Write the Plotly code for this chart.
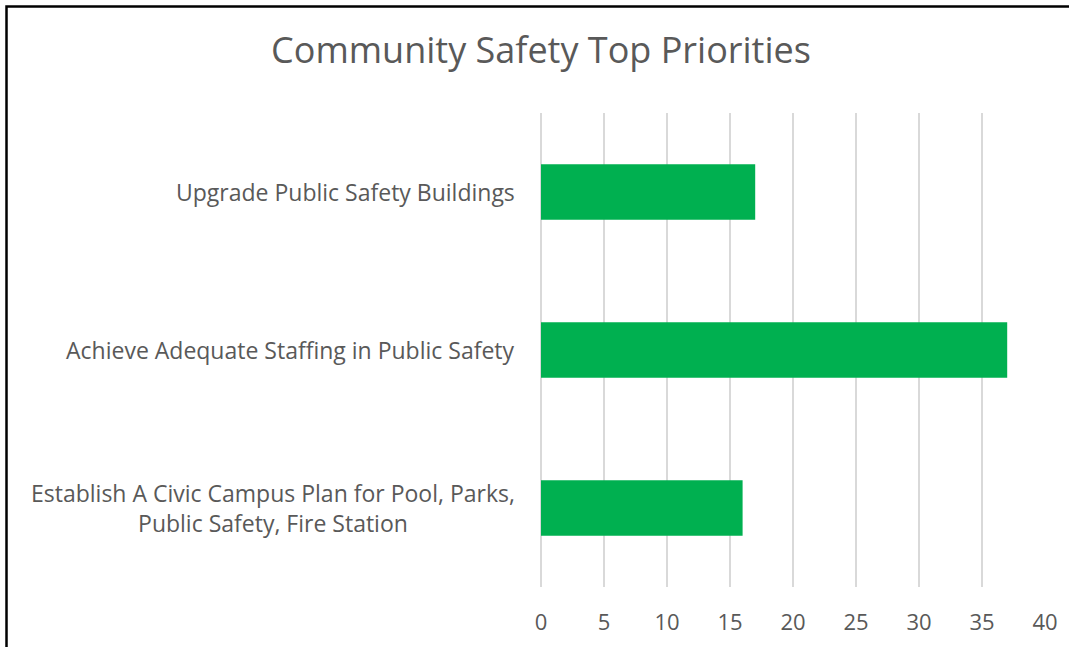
import plotly.graph_objects as go

# Survey tallies for community safety priorities
categories = [
    "Establish A Civic Campus Plan for Pool, Parks,<br>Public Safety, Fire Station",
    "Achieve Adequate Staffing in Public Safety",
    "Upgrade Public Safety Buildings",
]
votes = [16, 37, 17]
x_ticks = [0, 5, 10, 15, 20, 25, 30, 35, 40]

FONT = "Open Sans, Calibri, sans-serif"
GREY = "#595959"

W, H = 1069, 647
L, R, T, B = 541, 24, 113, 60
pw, ph = W - L - R, H - T - B

fig = go.Figure(
    go.Bar(
        y=categories,
        x=votes,
        orientation="h",
        marker=dict(color="#00B050", line=dict(width=0)),
        width=0.35,
        hoverinfo="x+y",
    )
)

# Category labels drawn as annotations so wrapped lines stay centered
for cat in categories:
    fig.add_annotation(
        x=-24 / pw, xref="paper", y=cat, yref="y",
        text=cat, showarrow=False, xanchor="right", yanchor="middle",
        align="center", font=dict(family=FONT, size=23, color=GREY),
    )

# Frame around the whole figure (left and top edges)
fx0 = (6.5 - L) / pw
fy1 = 1 + (T - 6.5) / ph
fx1 = (W + 5 - L) / pw
fy0 = -(B + 5) / ph
fig.add_shape(type="rect", xref="paper", yref="paper",
              x0=fx0, x1=fx1, y0=fy0, y1=fy1,
              line=dict(color="black", width=2.5), fillcolor="rgba(0,0,0,0)")

fig.update_layout(
    width=W, height=H,
    margin=dict(l=L, r=R, t=T, b=B, pad=0),
    paper_bgcolor="white", plot_bgcolor="white",
    showlegend=False,
    title=dict(
        text="Community Safety Top Priorities",
        x=541 / W, xanchor="center", xref="container",
        y=1 - 50 / H, yanchor="middle",
        font=dict(family=FONT, size=36, color=GREY),
    ),
    xaxis=dict(
        range=[0, 40], tickvals=x_ticks, ticktext=[str(v) for v in x_ticks],
        showgrid=True, gridcolor="#D9D9D9", gridwidth=1.5,
        zeroline=True, zerolinecolor="#D9D9D9", zerolinewidth=1.5,
        showline=False, ticks="",
        ticklabelstandoff=20,
        tickfont=dict(family=FONT, size=22, color=GREY),
        fixedrange=True,
    ),
    yaxis=dict(
        categoryorder="array", categoryarray=categories,
        showticklabels=False, showgrid=False, zeroline=False,
        showline=False, ticks="", fixedrange=True,
    ),
)

fig.write_html("out.html")
